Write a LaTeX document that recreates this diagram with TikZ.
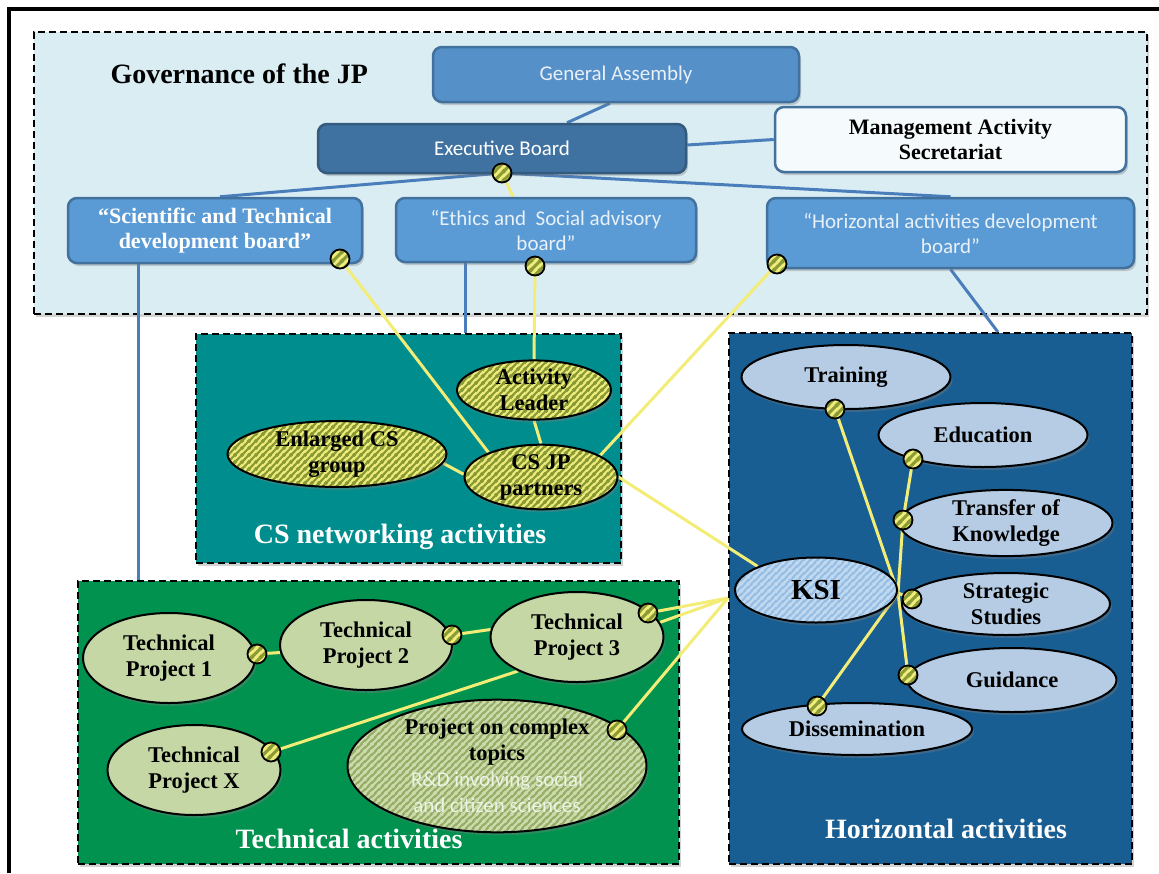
\documentclass[tikz,border=0pt]{standalone}
\usepackage{fontspec}
\setmainfont{Liberation Serif}
\newfontfamily\calib{Carlito}
\usetikzlibrary{shapes.geometric,patterns,shadows}

\definecolor{govfill}{RGB}{218,237,243}
\definecolor{gaf}{RGB}{86,144,200}
\definecolor{midb}{RGB}{91,155,213}
\definecolor{ebf}{RGB}{63,114,160}
\definecolor{bdr}{RGB}{65,113,156}
\definecolor{masf}{RGB}{245,250,252}
\definecolor{csf}{RGB}{0,141,141}
\definecolor{hbf}{RGB}{25,94,146}
\definecolor{tbf}{RGB}{0,146,78}
\definecolor{lbl}{RGB}{181,204,228}
\definecolor{lgr}{RGB}{196,215,164}
\definecolor{hy}{RGB}{240,237,125}
\definecolor{ho}{RGB}{138,154,52}
\definecolor{ksib}{RGB}{150,190,228}
\definecolor{ksis}{RGB}{192,216,240}
\definecolor{cxb}{RGB}{150,172,100}
\definecolor{cxs}{RGB}{202,218,170}
\definecolor{yl}{RGB}{243,237,120}
\definecolor{bl}{RGB}{74,126,187}
\definecolor{lt}{RGB}{232,240,248}
\definecolor{cxt}{RGB}{236,242,228}

\pgfdeclarepatternformonly{stripesA}{\pgfqpoint{0pt}{0pt}}{\pgfqpoint{6.5pt}{6.5pt}}{\pgfqpoint{6.5pt}{6.5pt}}{%
  \pgfsetlinewidth{2.3pt}%
  \pgfpathmoveto{\pgfqpoint{-1pt}{-1pt}}\pgfpathlineto{\pgfqpoint{7.5pt}{7.5pt}}%
  \pgfpathmoveto{\pgfqpoint{-1.5pt}{5pt}}\pgfpathlineto{\pgfqpoint{1.5pt}{8pt}}%
  \pgfpathmoveto{\pgfqpoint{5pt}{-1.5pt}}\pgfpathlineto{\pgfqpoint{8pt}{1.5pt}}%
  \pgfusepath{stroke}}
\pgfdeclarepatternformonly{stripesB}{\pgfqpoint{0pt}{0pt}}{\pgfqpoint{9pt}{9pt}}{\pgfqpoint{9pt}{9pt}}{%
  \pgfsetlinewidth{3.2pt}%
  \pgfpathmoveto{\pgfqpoint{-1pt}{-1pt}}\pgfpathlineto{\pgfqpoint{10pt}{10pt}}%
  \pgfpathmoveto{\pgfqpoint{-2pt}{7pt}}\pgfpathlineto{\pgfqpoint{2pt}{11pt}}%
  \pgfpathmoveto{\pgfqpoint{7pt}{-2pt}}\pgfpathlineto{\pgfqpoint{11pt}{2pt}}%
  \pgfusepath{stroke}}

\pgfdeclarelayer{bg}
\pgfdeclarelayer{lines}
\pgfsetlayers{bg,lines,main}

\begin{document}
\begin{tikzpicture}[x=1pt,y=-1pt,
  shad/.style={drop shadow={opacity=0.35,shadow xshift=2pt,shadow yshift=-3pt}},
  dashbox/.style={draw=black, line width=1.8pt, dash pattern=on 7pt off 4pt,
    anchor=north west, inner sep=0pt, shad},
  gbox/.style={draw=bdr, line width=2.5pt, rounded corners=9pt, fill=midb,
    inner sep=2pt, align=center, shad},
  sanst/.style={font=\calib\fontsize{21}{25}\selectfont, text=lt},
  serift/.style={font=\bfseries\fontsize{22}{25}\selectfont},
  ell/.style={ellipse, draw=black, line width=2pt, inner sep=0pt, align=center,
    font=\bfseries\fontsize{22.5}{26}\selectfont, shad},
  yhatch/.style={preaction={fill=hy}, pattern=stripesA, pattern color=ho},
  dot/.style={circle, draw=black, line width=1.8pt, minimum size=19pt, inner sep=0pt,
    preaction={fill=hy}, pattern=stripesB, pattern color=ho},
  yline/.style={draw=yl, line width=3pt},
  bline/.style={draw=bl, line width=3pt},
  lbl/.style={anchor=base, text=white, font=\bfseries\fontsize{28}{30}\selectfont}
]
\useasboundingbox (0,0) rectangle (1159,873);

% outer frame
\draw[line width=4.5pt] (9,873) -- (9,9) -- (1159,9);

\begin{pgfonlayer}{bg}
  \node[dashbox, fill=govfill, minimum width=1113pt, minimum height=282pt] (GOV) at (33,31) {};
  \node[dashbox, fill=csf, minimum width=425pt, minimum height=229pt] (CS) at (195,333) {};
  \node[dashbox, fill=hbf, minimum width=403pt, minimum height=531pt] (HB) at (728,332) {};
  \node[dashbox, fill=tbf, minimum width=601pt, minimum height=283pt] (TB) at (77,580) {};
\end{pgfonlayer}

% titles
\node[anchor=base west, font=\bfseries\fontsize{28}{32}\selectfont] (title) at (107,83) {Governance of the JP};
\node[lbl] (csl) at (400,543) {CS networking activities};
\node[lbl] (hbl) at (946,838) {Horizontal activities};
\node[lbl] (tbl) at (349,848) {Technical activities};

% governance boxes
\node[gbox, fill=gaf, minimum width=366pt, minimum height=55pt, sanst] (GA) at (616,74.5) {General Assembly};
\node[gbox, fill=ebf, draw=bdr!80!black, minimum width=368pt, minimum height=49pt, sanst, text=white] (EB) at (502,148.5) {Executive Board};
\node[gbox, fill=masf, minimum width=351pt, minimum height=65pt, serift] (MAS) at (950.5,139.5) {Management Activity\\Secretariat};
\node[gbox, minimum width=294pt, minimum height=65pt, serift, text=white] (STDB) at (215,230.5) {“Scientific and Technical\\development board”};
\node[gbox, minimum width=300pt, minimum height=64pt, sanst] (Eth) at (546,230) {“Ethics and~~Social advisory\\board”};
\node[gbox, minimum width=367pt, minimum height=70pt, sanst] (HADB) at (950.5,233) {“Horizontal activities development\\board”};

% CS ellipses
\node[ell, yhatch, minimum width=154pt, minimum height=55pt] (AL) at (534,390) {Activity\\Leader};
\node[ell, yhatch, minimum width=219pt, minimum height=64pt] (ECS) at (337,454) {Enlarged CS\\group};
\node[ell, yhatch, minimum width=153pt, minimum height=55pt] (CSJP) at (541,477) {CS JP\\partners};

% horizontal ellipses
\node[ell, fill=lbl, minimum width=209pt, minimum height=64pt] (Train) at (846,377) {Training};
\node[ell, fill=lbl, minimum width=209pt, minimum height=64pt] (Edu) at (983,435) {Education};
\node[ell, fill=lbl, minimum width=213pt, minimum height=63pt] (Trans) at (1006,523) {Transfer of\\Knowledge};
\node[ell, fill=lbl, minimum width=208pt, minimum height=62pt] (Strat) at (1006,604) {Strategic\\Studies};
\node[ell, fill=lbl, minimum width=209pt, minimum height=64pt] (Guid) at (1012,680) {Guidance};
\node[ell, fill=lbl, minimum width=230pt, minimum height=52pt] (Diss) at (857,729) {Dissemination};
\node[ell, preaction={fill=ksib}, pattern=stripesA, pattern color=ksis, minimum width=162pt, minimum height=65pt,
  font=\bfseries\fontsize{29}{32}\selectfont] (KSI) at (816,590) {KSI};

% technical ellipses
\node[ell, fill=lgr, minimum width=172pt, minimum height=90pt] (TP1) at (169,658) {Technical\\Project 1};
\node[ell, fill=lgr, minimum width=172pt, minimum height=90pt] (TP2) at (366,645) {Technical\\Project 2};
\node[ell, fill=lgr, minimum width=173pt, minimum height=90pt] (TP3) at (577,637) {Technical\\Project 3};
\node[ell, fill=lgr, minimum width=173pt, minimum height=90pt] (TPX) at (194,770) {Technical\\Project X};
\node[ell, preaction={fill=cxb}, pattern=stripesA, pattern color=cxs, minimum width=299pt, minimum height=122pt] (Cx) at (497,766)
  {Project on complex\\topics\\{\calib\mdseries\fontsize{21}{25}\selectfont\color{cxt}R\&D involving social}\\{\calib\mdseries\fontsize{21}{25}\selectfont\color{cxt}and citizen sciences}};

% dots
\node[dot] (dEB) at (502,173) {};
\node[dot] (dSTDB) at (340,259) {};
\node[dot] (dEth) at (535,266) {};
\node[dot] (dHADB) at (777,264) {};
\node[dot] (dTrain) at (835,409) {};
\node[dot] (dEdu) at (913,459) {};
\node[dot] (dTrans) at (903,520) {};
\node[dot] (dStrat) at (912,599) {};
\node[dot] (dGuid) at (908,675) {};
\node[dot] (dDiss) at (817,706) {};
\node[dot] (dTP1) at (257,654) {};
\node[dot] (dTP2) at (452,635) {};
\node[dot] (dTP3) at (648,613) {};
\node[dot] (dTPX) at (271,752) {};
\node[dot] (dCx) at (617,730) {};

\coordinate (hub) at ([yshift=-3pt]KSI.east);
\coordinate (KSIL) at (728,598);
\coordinate (stb) at ([xshift=-77pt]STDB.south);
\coordinate (etb) at ([xshift=-81pt]Eth.south);

\begin{pgfonlayer}{lines}
  % governance blue connectors
  \draw[bline] ([xshift=-6pt]GA.south) -- ([xshift=65pt]EB.north);
  \draw[bline] ([yshift=3.5pt]EB.east) -- (MAS.west);
  \draw[bline] (dEB.center) -- ([xshift=5pt]STDB.north);
  \draw[bline] (dEB.center) -- (HADB.north);
  \draw[yline] (dEB.center) -- ([xshift=-33pt]Eth.north);
  \draw[bline] (stb) -- (stb |- TB.north);
  \draw[bline] (etb) -- (etb |- CS.north);
  \draw[bline] (HADB.south) -- ([xshift=67.5pt]HB.north);
  % yellow connectors
  \draw[yline] (dSTDB.center) -- (CSJP.155);
  \draw[yline] (dEth.center) -- (AL.north);
  \draw[yline] (AL.south) -- (CSJP.north);
  \draw[yline] (dHADB.center) -- (CSJP.20);
  \draw[yline] (ECS.-5) -- (CSJP.178);
  \draw[yline] (CSJP.east) -- (KSI.158);
  \draw[yline] (dTP1.center) -- (TP2.185);
  \draw[yline] (dTP2.center) -- (TP3.175);
  \draw[yline] (TP3.210) -- (dTPX.center);
  \draw[yline] (dTP3.center) -- (KSIL);
  \draw[yline] (TP3.10) -- (KSIL);
  \draw[yline] (dCx.center) -- (KSIL);
  \draw[yline] (hub) -- (dTrain.center);
  \draw[yline] (hub) -- (dTrans.center);
  \draw[yline] (dTrans.center) -- (dEdu.center);
  \draw[yline] (hub) -- (dStrat.center);
  \draw[yline] (hub) -- (dGuid.center);
  \draw[yline] (hub) -- (dDiss.center);
\end{pgfonlayer}
\end{tikzpicture}
\end{document}
